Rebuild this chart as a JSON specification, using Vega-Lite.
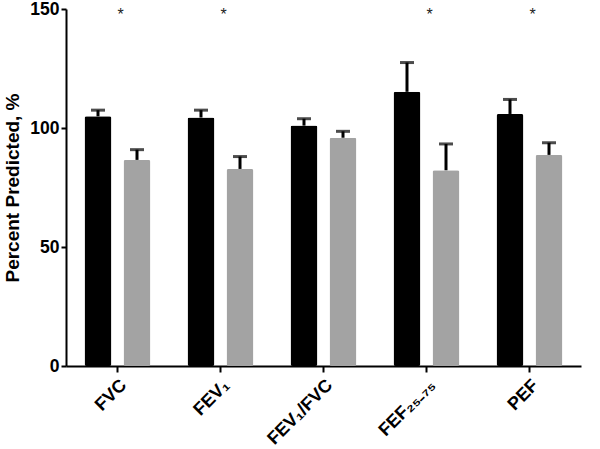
{
  "$schema": "https://vega.github.io/schema/vega-lite/v6.json",
  "autosize": "none",
  "width": 515,
  "height": 357,
  "padding": {"left": 66, "top": 9, "right": 19, "bottom": 83},
  "background": "white",
  "config": {
    "view": {"stroke": null},
    "font": "Liberation Sans",
    "axis": {
      "domainColor": "#000",
      "domainWidth": 2,
      "tickColor": "#000",
      "tickWidth": 2,
      "labelColor": "#000",
      "labelFontWeight": "bold",
      "titleColor": "#000",
      "titleFontWeight": "bold",
      "grid": false
    },
    "axisX": {
      "labelAngle": -45,
      "labelFontSize": 18,
      "labelPadding": 4,
      "tickSize": 6
    },
    "axisY": {
      "labelFontSize": 17.5,
      "labelPadding": 2,
      "tickSize": 5,
      "titleFontSize": 19,
      "titlePadding": 7
    }
  },
  "datasets": {
    "bars": [
      {"metric": "FVC", "group": "Control", "value": 104.9, "upper": 107.5},
      {"metric": "FVC", "group": "Patient", "value": 86.6, "upper": 90.9},
      {"metric": "FEV₁", "group": "Control", "value": 104.4, "upper": 107.5},
      {"metric": "FEV₁", "group": "Patient", "value": 82.8, "upper": 88.0},
      {"metric": "FEV₁/FVC", "group": "Control", "value": 101.0, "upper": 103.9},
      {"metric": "FEV₁/FVC", "group": "Patient", "value": 95.9, "upper": 98.6},
      {"metric": "FEF₂₅₋₇₅", "group": "Control", "value": 115.2, "upper": 127.5},
      {"metric": "FEF₂₅₋₇₅", "group": "Patient", "value": 82.2, "upper": 93.3},
      {"metric": "PEF", "group": "Control", "value": 105.9, "upper": 112.0},
      {"metric": "PEF", "group": "Patient", "value": 88.7, "upper": 93.8}
    ],
    "stars": [
      {"metric": "FVC", "label": "*", "pos": 145.5},
      {"metric": "FEV₁", "label": "*", "pos": 145.5},
      {"metric": "FEF₂₅₋₇₅", "label": "*", "pos": 145.5},
      {"metric": "PEF", "label": "*", "pos": 145.5}
    ]
  },
  "layer": [
    {
      "data": {"name": "bars"},
      "mark": {"type": "rule", "strokeWidth": 3, "color": "#000"},
      "encoding": {
        "x": {
          "field": "metric",
          "type": "nominal",
          "sort": ["FVC", "FEV₁", "FEV₁/FVC", "FEF₂₅₋₇₅", "PEF"],
          "scale": {"domain": ["FVC", "FEV₁", "FEV₁/FVC", "FEF₂₅₋₇₅", "PEF"], "paddingInner": 0.36, "paddingOuter": 0.18},
          "axis": {"title": null, "labelAngle": -45}
        },
        "xOffset": {"field": "group", "type": "nominal", "scale": {"paddingInner": 0.31, "paddingOuter": 0}},
        "y": {"field": "value", "type": "quantitative", "scale": {"domain": [0, 150], "nice": false}, "axis": {"title": "Percent Predicted, %", "values": [0, 50, 100, 150]}},
        "y2": {"field": "upper"}
      }
    },
    {
      "data": {"name": "bars"},
      "mark": {"type": "tick", "thickness": 3, "size": 14, "color": "#000"},
      "encoding": {
        "x": {"field": "metric", "type": "nominal", "sort": ["FVC", "FEV₁", "FEV₁/FVC", "FEF₂₅₋₇₅", "PEF"]},
        "xOffset": {"field": "group", "type": "nominal", "scale": {"paddingInner": 0.31, "paddingOuter": 0}},
        "y": {"field": "upper", "type": "quantitative"}
      }
    },
    {
      "data": {"name": "bars"},
      "mark": {"type": "bar", "cornerRadius": 2},
      "encoding": {
        "x": {"field": "metric", "type": "nominal", "sort": ["FVC", "FEV₁", "FEV₁/FVC", "FEF₂₅₋₇₅", "PEF"]},
        "xOffset": {"field": "group", "type": "nominal", "scale": {"paddingInner": 0.31, "paddingOuter": 0}},
        "y": {"field": "value", "type": "quantitative"},
        "color": {
          "field": "group",
          "type": "nominal",
          "scale": {"domain": ["Control", "Patient"], "range": ["#000000", "#a3a3a3"]},
          "legend": null
        }
      }
    },
    {
      "data": {"name": "stars"},
      "mark": {"type": "text", "fontSize": 16, "dx": 3, "baseline": "alphabetic", "color": "#222"},
      "encoding": {
        "x": {"field": "metric", "type": "nominal", "sort": ["FVC", "FEV₁", "FEV₁/FVC", "FEF₂₅₋₇₅", "PEF"]},
        "y": {"field": "pos", "type": "quantitative"},
        "text": {"field": "label"}
      }
    }
  ]
}
